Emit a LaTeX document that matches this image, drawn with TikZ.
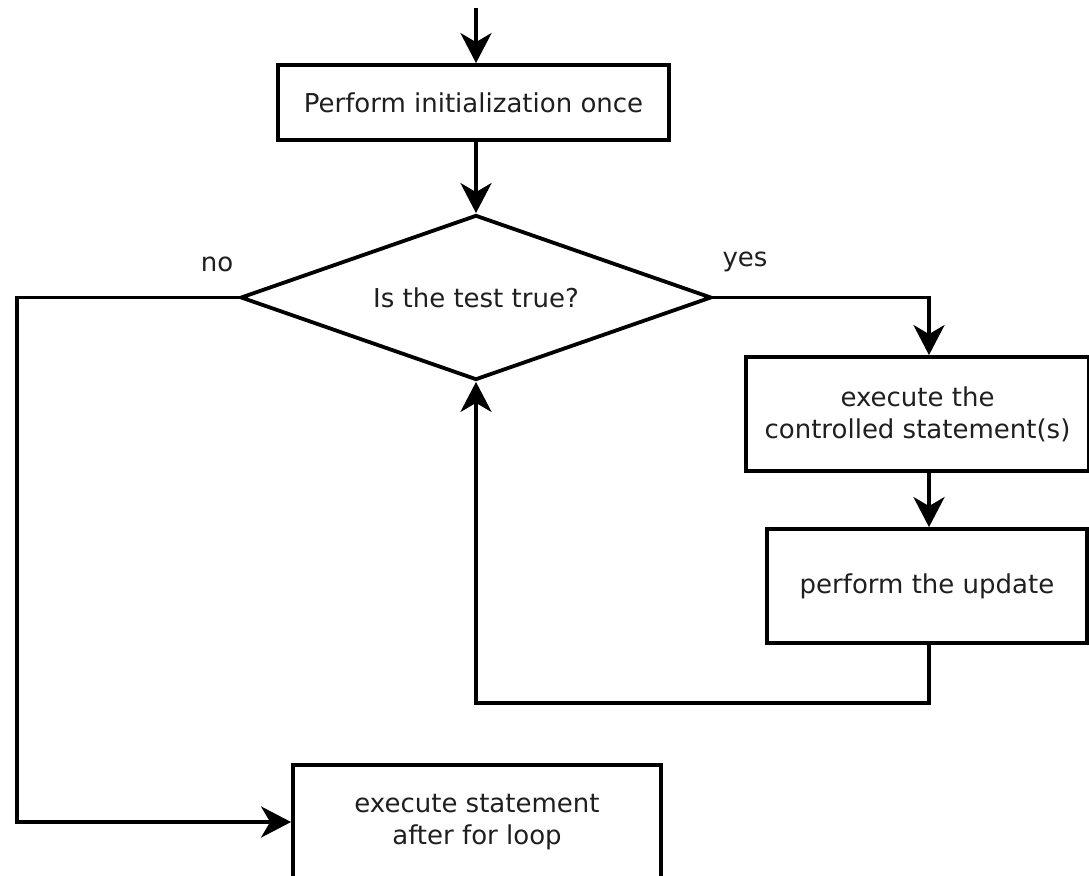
\documentclass[tikz,border=0pt]{standalone}
\usepackage{fontspec}
\setmainfont{DejaVu Sans}
\usetikzlibrary{shapes.geometric,arrows.meta}
\begin{document}
\begin{tikzpicture}[x=1pt,y=-1pt,
  line width=3.8pt,
  every node/.style={font=\fontsize{26}{32}\selectfont, text=black!88},
  box/.style={draw, rectangle, inner sep=0pt, align=center, line width=3.8pt},
  dec/.style={draw, diamond, inner sep=0pt, aspect=2.85, line width=3.8pt},
  arr/.style={-{Stealth[length=30pt,width=31pt,inset=9pt]}, line width=3.8pt},
  lbl/.style={font=\fontsize{26}{30}\selectfont}]
\useasboundingbox (0,0) rectangle (1089,875);
\fill[white] (0,0) rectangle (1089,875);
\node[box, minimum width=391pt, minimum height=75pt] (init) at (473.5,102.5) {Perform initialization once};
\node[dec, minimum width=471pt, minimum height=165pt] (test) at (476,297.5) {Is the test true?};
\node[box, minimum width=343pt, minimum height=114pt] (body) at (917.5,414) {execute the\\controlled statement(s)};
\node[box, minimum width=320pt, minimum height=114pt] (upd) at (927,586) {perform the update};
\node[box, minimum width=368pt, minimum height=114pt] (after) at (477,822) {execute statement\\after for loop};
\node[lbl] (no) at (217,264) {no};
\node[lbl] (yes) at (745,262) {yes};
\coordinate (start) at (476,8);
\coordinate (nocorner) at (17,297.5);
\coordinate (yescorner) at (929,297.5);
\coordinate (loopA) at (929,703);
\coordinate (loopB) at (476,703);
\draw[arr] (start) -- (init.north -| start);
\draw[arr] (init.south -| start) -- (test.north);
\draw[arr] (test.east) -- (yescorner) -- (body.north -| yescorner);
\draw[arr] (body.south -| yescorner) -- (upd.north -| yescorner);
\draw[arr] (upd.south -| loopA) -- (loopA) -- (loopB) -- (test.south);
\draw[arr] (test.west) -- (nocorner) -- (nocorner |- after.west) -- (after.west);
\end{tikzpicture}
\end{document}
